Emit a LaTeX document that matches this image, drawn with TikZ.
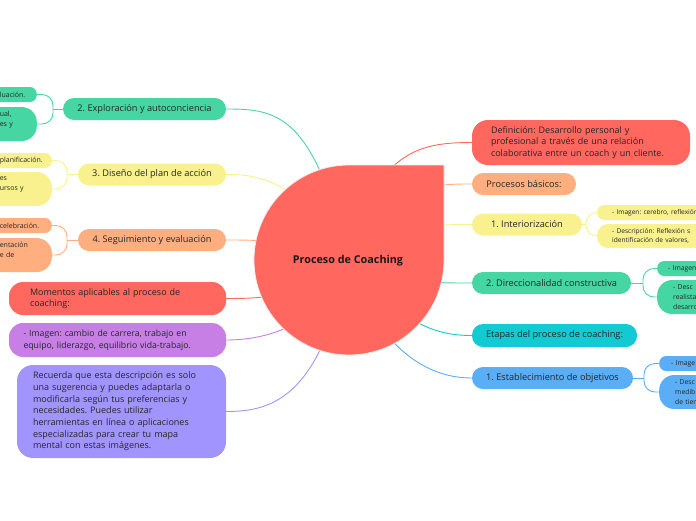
\documentclass[tikz,border=0pt]{standalone}
\usepackage{fontspec}
\setmainfont{Open Sans}
\usepackage{xcolor}
\usetikzlibrary{positioning, backgrounds}
\definecolor{cred}{HTML}{FF675F}
\definecolor{cteal}{HTML}{45D6A4}
\definecolor{cyellow}{HTML}{F8F18E}
\definecolor{corange}{HTML}{FFAF7F}
\definecolor{ccyan}{HTML}{12CBD2}
\definecolor{cblue}{HTML}{5AAEF6}
\definecolor{cpurple}{HTML}{C77FE6}
\definecolor{cviolet}{HTML}{A294FF}
\frenchspacing

\begin{document}
\begin{tikzpicture}[x=1pt, y=-1pt,
    box/.style={inner sep=0pt, text=black!85, font=\fontsize{9.2}{11.2}\selectfont},
    topic/.style={box, rounded corners=11, minimum height=22},
    note/.style={box, rounded corners=14, align=left, font=\fontsize{9}{11.2}\selectfont},
    leaf/.style={inner ysep=0pt, text=black!85, align=left, font=\fontsize{7}{10.5}\selectfont},
    rleaf/.style={leaf, anchor=west, font=\fontsize{6.8}{10}\selectfont},
    lleaf/.style={leaf, anchor=east},
    ln/.style={line width=0.9pt},
    fork/.style={line width=0.9pt, rounded corners=11}]
    \useasboundingbox (0,0) rectangle (696,520);

    \fill[cred, draw=black!8, line width=0.8pt] (349,165) -- (444,165) -- (444,260)
      arc[start angle=0, end angle=270, radius=95] -- cycle;
    \node[font=\fontsize{10.8}{13}\bfseries, text=black!90] (root) at (348,261) {Proceso de Coaching};

    \node[topic, fill=cteal, minimum width=163] (explor) at (144.5,109) {2. Exploración y autoconciencia};
    \node[topic, fill=cyellow, minimum width=148] (diseno) at (152,174.5) {3. Diseño del plan de acción};
    \node[topic, fill=corange, minimum width=148] (seguim) at (152,240) {4. Seguimiento y evaluación};
    \node[note, fill=cred, text width=175, inner xsep=21, minimum height=33] (momentos) at (117.5,298.5)
      {Momentos aplicables al proceso de\\coaching:};
    \node[note, fill=cpurple, text width=188, inner xsep=14.5, minimum height=34,
      font=\fontsize{8.7}{11.5}\selectfont] (imagen) at (117.5,340)
      {- Imagen: cambio de carrera, trabajo en\\equipo, liderazgo, equilibrio vida-trabajo.};
    \node[note, fill=cviolet, text width=177, inner xsep=16, minimum height=93, rounded corners=16,
      font=\fontsize{9}{11.7}\selectfont] (recuerda) at (121.5,411.5)
      {Recuerda que esta descripción es solo\\una sugerencia y puedes adaptarla o\\modificarla según tus preferencias y\\necesidades. Puedes utilizar\\herramientas en línea o aplicaciones\\especializadas para crear tu mapa\\mental con estas imágenes.};

    \node[note, fill=cred, text width=180, inner xsep=19, minimum height=45, rounded corners=16] (defin) at (581,142.5)
      {Definición: Desarrollo personal y\\profesional a través de una relación\\colaborativa entre un coach y un cliente.};
    \node[topic, fill=corange, minimum width=104] (procesos) at (524,184) {Procesos básicos:};
    \node[topic, fill=cyellow, minimum width=110] (interior) at (527,224.5) {1. Interiorización};
    \node[topic, fill=cteal, minimum width=159] (direc) at (551.5,283) {2. Direccionalidad constructiva};
    \node[topic, fill=ccyan, minimum width=165, minimum height=23] (etapas) at (554.5,335.5) {Etapas del proceso de coaching:};
    \node[topic, fill=cblue, minimum width=161] (objet) at (552.5,378) {1. Establecimiento de objetivos};

    \node[lleaf, fill=cteal, rounded corners=7, minimum height=15, inner xsep=8, text width=29] (explor1) at (37,94.5) {luación.};
    \node[lleaf, fill=cteal, rounded corners=15, minimum height=34, inner xsep=16, text width=21] (explor2) at (37,124) {ual,\\es y\\\mbox{}};
    \node[lleaf, fill=cyellow, rounded corners=7, minimum height=15, inner xsep=8, text width=44] (diseno1) at (52,160.5) {planificación.};
    \node[lleaf, fill=cyellow, rounded corners=15, minimum height=34, inner xsep=16, text width=36] (diseno2) at (52,189) {es\\ursos y\\\mbox{}};
    \node[lleaf, fill=corange, rounded corners=7, minimum height=15, inner xsep=8, text width=44] (seguim1) at (52,225.5) {celebración.};
    \node[lleaf, fill=corange, rounded corners=15, minimum height=34, inner xsep=16, text width=36] (seguim2) at (52,255) {entación\\e de\\\mbox{}};

    \node[rleaf, fill=cyellow, rounded corners=7, minimum height=15, inner xsep=15, text width=110,
      font=\fontsize{6.6}{9}\selectfont] (interior1) at (597,212.5) {- Imagen: cerebro, reflexión};
    \node[rleaf, fill=cyellow, rounded corners=11, minimum height=24, inner xsep=15, text width=110,
      font=\fontsize{6.6}{9}\selectfont] (interior2) at (597,236) {- Descripción: Reflexión s\\identificación de valores,};
    \node[rleaf, fill=cteal, rounded corners=7, minimum height=15, inner xsep=11, text width=60] (direc1) at (657,268.5) {- Imagen};
    \node[rleaf, fill=cteal, rounded corners=15, minimum height=34, inner xsep=16, text width=60] (direc2) at (657,297) {- Desc\\realista\\desarro};
    \node[rleaf, fill=cblue, rounded corners=7, minimum height=15, inner xsep=12, text width=60] (objet1) at (659,363.5) {- Image};
    \node[rleaf, fill=cblue, rounded corners=15, minimum height=34, inner xsep=16, text width=60] (objet2) at (659,392) {- Desc\\medib\\de tiem};

    \coordinate (fexplor) at (53,109);
    \coordinate (fdiseno) at (67,174.5);
    \coordinate (fseguim) at (67,240);
    \coordinate (finterior) at (586,224.5);
    \coordinate (fdirec) at (643,283);
    \coordinate (fobjet) at (644,378);

    \begin{scope}[on background layer]
    \draw[ln, cred] (root.center) .. controls (375,150) and (420,142.5) .. (defin.west);
    \draw[ln, corange] (root.center) .. controls (400,184) and (430,184) .. (procesos.west);
    \draw[ln, cyellow] (root.center) .. controls (400,224.5) and (430,224.5) .. (interior.west);
    \draw[ln, cteal] (root.center) .. controls (400,283) and (430,283) .. (direc.west);
    \draw[ln, ccyan] (root.center) .. controls (400,320) and (430,335.5) .. (etapas.west);
    \draw[ln, cblue] (root.center) .. controls (375,340) and (420,378) .. (objet.west);
    \draw[ln, cteal] (root.center) .. controls (314,113) and (276,109) .. (explor.east);
    \draw[ln, cyellow] (root.center) .. controls (300,175) and (250,174.5) .. (diseno.east);
    \draw[ln, corange] (root.center) .. controls (300,240) and (260,240) .. (seguim.east);
    \draw[ln, cred] (root.center) .. controls (300,298.5) and (260,298.5) .. (momentos.east);
    \draw[ln, cpurple] (root.center) .. controls (320,330) and (260,340) .. (imagen.east);
    \draw[ln, cviolet] (root.center) .. controls (320,400) and (270,411.5) .. (recuerda.east);
    \end{scope}

    \draw[ln, cteal] (explor.west) -- (fexplor);
    \draw[fork, cteal] (fexplor) |- (explor1.east);
    \draw[fork, cteal] (fexplor) |- (explor2.east);
    \draw[ln, cyellow] (diseno.west) -- (fdiseno);
    \draw[fork, cyellow] (fdiseno) |- (diseno1.east);
    \draw[fork, cyellow] (fdiseno) |- (diseno2.east);
    \draw[ln, corange] (seguim.west) -- (fseguim);
    \draw[fork, corange] (fseguim) |- (seguim1.east);
    \draw[fork, corange] (fseguim) |- (seguim2.east);
    \draw[ln, cyellow] (interior.east) -- (finterior);
    \draw[fork, cyellow] (finterior) |- (interior1.west);
    \draw[fork, cyellow] (finterior) |- (interior2.west);
    \draw[ln, cteal] (direc.east) -- (fdirec);
    \draw[fork, cteal] (fdirec) |- (direc1.west);
    \draw[fork, cteal] (fdirec) |- (direc2.west);
    \draw[ln, cblue] (objet.east) -- (fobjet);
    \draw[fork, cblue] (fobjet) |- (objet1.west);
    \draw[fork, cblue] (fobjet) |- (objet2.west);
\end{tikzpicture}
\end{document}
